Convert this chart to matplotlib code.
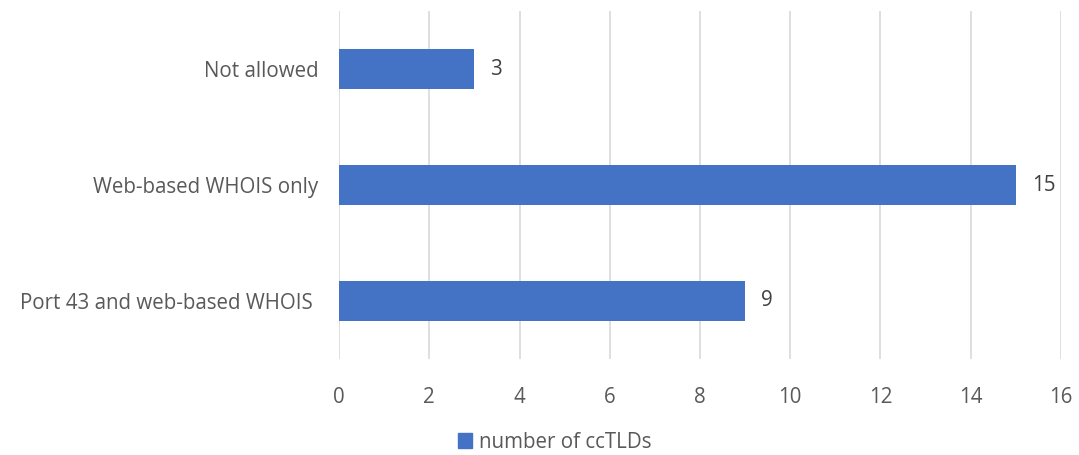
import matplotlib.pyplot as plt
from matplotlib.patches import Patch

plt.rcParams['font.family'] = ['Open Sans', 'DejaVu Sans']

categories = ["Port 43 and web-based WHOIS", "Web-based WHOIS only", "Not allowed"]
counts = [9, 15, 3]
series_name = "number of ccTLDs"
xticks = [0, 2, 4, 6, 8, 10, 12, 14, 16]

bar_color = "#4472C4"
text_color = "#595959"
fs = 14.8

fig = plt.figure(figsize=(10.79, 4.55), dpi=100)
ax = fig.add_axes([0.3142, 0.211, 0.6691, 0.7648])

ypos = range(len(categories))
ax.barh(ypos, counts, height=0.345, color=bar_color, zorder=3)
for y, v in zip(ypos, counts):
    ax.text(v + 0.35, y, str(v), va="center", ha="left", fontsize=fs, color="#404040")

ax.set_xlim(0, 16)
ax.set_ylim(-0.5, 2.5)
ax.set_xticks(xticks)
ax.set_yticks(list(ypos))
ax.set_yticklabels([c + " " if c.startswith("Port") else c for c in categories])
ax.tick_params(axis="both", length=0, labelsize=fs, colors=text_color)
ax.tick_params(axis="x", pad=20)
ax.tick_params(axis="y", pad=15)
ax.grid(axis="x", color="#D9D9D9", linewidth=1.2, zorder=0)
for s in ax.spines.values():
    s.set_visible(False)

fig.legend(handles=[Patch(color=bar_color, label=series_name)],
           loc="center", bbox_to_anchor=(0.514, 0.028), frameon=False,
           fontsize=fs, labelcolor=text_color, handlelength=0.7, handleheight=0.7,
           handletextpad=0.3)

fig.savefig("out.png", dpi=100)
